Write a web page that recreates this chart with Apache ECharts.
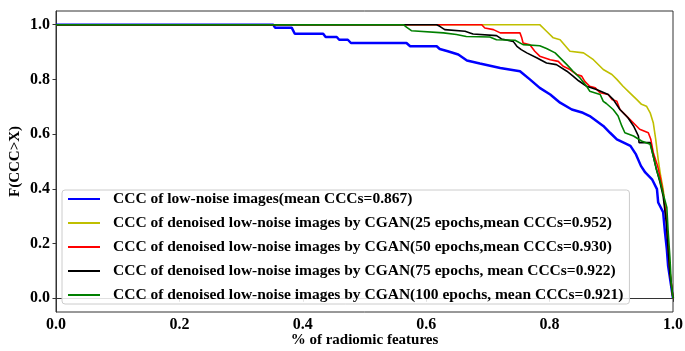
<!DOCTYPE html>
<html>
<head>
<meta charset="utf-8">
<script src="https://cdn.jsdelivr.net/npm/echarts@6/dist/echarts.min.js"></script>
<style>
  html, body { margin: 0; padding: 0; background: #fff; }
  #chart { width: 685px; height: 351px; }
</style>
</head>
<body>
<div id="chart"></div>
<script>
// Survival curves F(CCC > X) against the fraction of radiomic features, as [x, y] pairs.
const seriesNames = [
  'CCC of low-noise images(mean CCCs=0.867)',
  'CCC of denoised low-noise images by CGAN(25 epochs,mean CCCs=0.952)',
  'CCC of denoised low-noise images by CGAN(50 epochs,mean CCCs=0.930)',
  'CCC of denoised low-noise images by CGAN(75 epochs, mean CCCs=0.922)',
  'CCC of denoised low-noise images by CGAN(100 epochs, mean CCCs=0.921)'
];

const lowNoise = [
  [0, 1], [0.352, 1], [0.355, 0.989], [0.382, 0.989], [0.387, 0.967], [0.433, 0.967],
  [0.437, 0.955], [0.455, 0.955], [0.459, 0.945], [0.473, 0.945], [0.478, 0.933],
  [0.568, 0.933], [0.574, 0.921], [0.617, 0.921], [0.622, 0.911], [0.635, 0.903],
  [0.652, 0.891], [0.666, 0.869], [0.687, 0.858], [0.720, 0.842], [0.752, 0.830],
  [0.768, 0.800], [0.784, 0.769], [0.801, 0.745], [0.817, 0.715], [0.836, 0.690],
  [0.854, 0.678], [0.865, 0.666], [0.876, 0.648], [0.887, 0.630], [0.898, 0.605],
  [0.909, 0.581], [0.920, 0.569], [0.931, 0.557], [0.940, 0.526], [0.948, 0.484],
  [0.955, 0.460], [0.966, 0.435], [0.974, 0.399], [0.976, 0.350], [0.984, 0.315],
  [0.987, 0.242], [0.990, 0.180], [0.992, 0.120], [0.996, 0.060], [1.0, 0.0]
];

const cgan25 = [
  [0, 1], [0.784, 1], [0.795, 0.976], [0.806, 0.952], [0.817, 0.945], [0.833, 0.903],
  [0.855, 0.897], [0.871, 0.872], [0.887, 0.836], [0.901, 0.818], [0.909, 0.800],
  [0.919, 0.775], [0.930, 0.751], [0.941, 0.727], [0.949, 0.709], [0.957, 0.702],
  [0.963, 0.678], [0.968, 0.642], [0.972, 0.581], [0.976, 0.508], [0.980, 0.447],
  [0.984, 0.399], [0.989, 0.300], [0.992, 0.200], [0.995, 0.100], [1.0, 0.0]
];

const cgan50 = [
  [0, 1], [0.690, 1], [0.695, 0.988], [0.709, 0.982], [0.720, 0.970], [0.752, 0.970],
  [0.755, 0.951], [0.757, 0.933], [0.768, 0.927], [0.776, 0.903], [0.784, 0.885],
  [0.801, 0.872], [0.814, 0.866], [0.822, 0.848], [0.833, 0.836], [0.844, 0.818],
  [0.852, 0.812], [0.857, 0.793], [0.865, 0.775], [0.874, 0.769], [0.882, 0.751],
  [0.895, 0.745], [0.901, 0.727], [0.909, 0.720], [0.914, 0.690], [0.922, 0.672],
  [0.930, 0.654], [0.938, 0.636], [0.946, 0.618], [0.960, 0.605], [0.964, 0.581],
  [0.968, 0.533], [0.975, 0.484], [0.980, 0.435], [0.984, 0.387], [0.989, 0.300],
  [0.992, 0.200], [0.995, 0.100], [1.0, 0.0]
];

const cgan75 = [
  [0, 1], [0.617, 1], [0.622, 0.994], [0.630, 0.982], [0.663, 0.976], [0.671, 0.970],
  [0.676, 0.966], [0.714, 0.960], [0.722, 0.948], [0.741, 0.939], [0.747, 0.921],
  [0.754, 0.909], [0.763, 0.897], [0.779, 0.879], [0.795, 0.860], [0.811, 0.854],
  [0.828, 0.830], [0.838, 0.812], [0.847, 0.795], [0.860, 0.775], [0.876, 0.763],
  [0.895, 0.745], [0.903, 0.727], [0.914, 0.690], [0.927, 0.660], [0.936, 0.630],
  [0.944, 0.593], [0.945, 0.569], [0.963, 0.569], [0.968, 0.520], [0.973, 0.472],
  [0.979, 0.423], [0.984, 0.374], [0.989, 0.280], [0.992, 0.180], [0.995, 0.090],
  [1.0, 0.0]
];

const cgan100 = [
  [0, 1], [0.563, 1], [0.568, 0.991], [0.576, 0.978], [0.628, 0.970], [0.649, 0.964],
  [0.665, 0.957], [0.703, 0.955], [0.714, 0.945], [0.744, 0.943], [0.757, 0.927],
  [0.784, 0.923], [0.795, 0.913], [0.809, 0.897], [0.828, 0.854], [0.838, 0.830],
  [0.849, 0.806], [0.860, 0.775], [0.865, 0.757], [0.882, 0.745], [0.887, 0.720],
  [0.892, 0.712], [0.903, 0.690], [0.911, 0.666], [0.917, 0.630], [0.922, 0.605],
  [0.936, 0.593], [0.949, 0.575], [0.963, 0.563], [0.968, 0.520], [0.973, 0.472],
  [0.979, 0.429], [0.985, 0.374], [0.990, 0.332], [0.992, 0.250], [0.995, 0.150],
  [0.997, 0.060], [1.0, 0.0]
];

const tickValues = [0, 0.2, 0.4, 0.6, 0.8, 1.0];
const curveData = [lowNoise, cgan25, cgan50, cgan75, cgan100];
const curveColors = ['#0000ff', '#bfbf00', '#ff0000', '#000000', '#008000'];
const curveWidths = [2.5, 1.6, 1.6, 1.6, 1.6];

const serif = '"Liberation Serif", "Times New Roman", serif';
const chart = echarts.init(document.getElementById('chart'), null, { renderer: 'canvas' });

chart.setOption({
  animation: false,
  backgroundColor: '#ffffff',
  grid: {
    left: 56, right: 12, top: 11, bottom: 39,
    outerBoundsMode: 'none', containLabel: false,
    show: true, borderColor: '#333', borderWidth: 1, backgroundColor: 'transparent'
  },
  xAxis: {
    type: 'value', min: 0, max: 1,
    name: '% of radiomic features', nameLocation: 'middle', nameGap: 21,
    nameMoveOverlap: false,
    nameTextStyle: { fontFamily: serif, fontWeight: 'bold', fontSize: 15, color: '#000' },
    axisLine: { show: true, lineStyle: { color: '#333', width: 1 } },
    axisTick: { show: true, length: 3.5, lineStyle: { color: '#333' }, customValues: tickValues },
    axisLabel: {
      customValues: tickValues, margin: 5,
      fontFamily: serif, fontWeight: 'bold', fontSize: 16, color: '#000',
      formatter: v => v.toFixed(1)
    },
    splitLine: { show: false }
  },
  yAxis: {
    type: 'value', min: -0.05, max: 1.05,
    name: 'F(CCC>X)', nameLocation: 'middle', nameGap: 33, nameRotate: 90,
    nameMoveOverlap: false,
    nameTextStyle: { fontFamily: serif, fontWeight: 'bold', fontSize: 15, color: '#000' },
    axisLine: { show: true, lineStyle: { color: '#333', width: 1 } },
    axisTick: { show: true, length: 3.5, lineStyle: { color: '#333' }, customValues: tickValues },
    axisLabel: {
      customValues: tickValues, margin: 6,
      fontFamily: serif, fontWeight: 'bold', fontSize: 16, color: '#000',
      formatter: v => v.toFixed(1)
    },
    splitLine: { show: false }
  },
  legend: {
    orient: 'vertical', left: 62, top: 190,
    padding: [1, 6, 1, 6],
    icon: 'rect',
    itemWidth: 32, itemHeight: 2, itemGap: 8,
    backgroundColor: 'rgba(255,255,255,0.85)',
    borderColor: '#cccccc', borderWidth: 1, borderRadius: 3,
    textStyle: { fontFamily: serif, fontWeight: 'bold', fontSize: 15.5, color: '#000', padding: [0, 0, 0, 8] },
    data: seriesNames
  },
  series: curveData.map((d, i) => ({
    name: seriesNames[i],
    type: 'line',
    data: d,
    symbol: 'none',
    clip: true,
    lineStyle: { color: curveColors[i], width: curveWidths[i] },
    itemStyle: { color: curveColors[i] },
    z: 2 + i
  }))
});
</script>
</body>
</html>
